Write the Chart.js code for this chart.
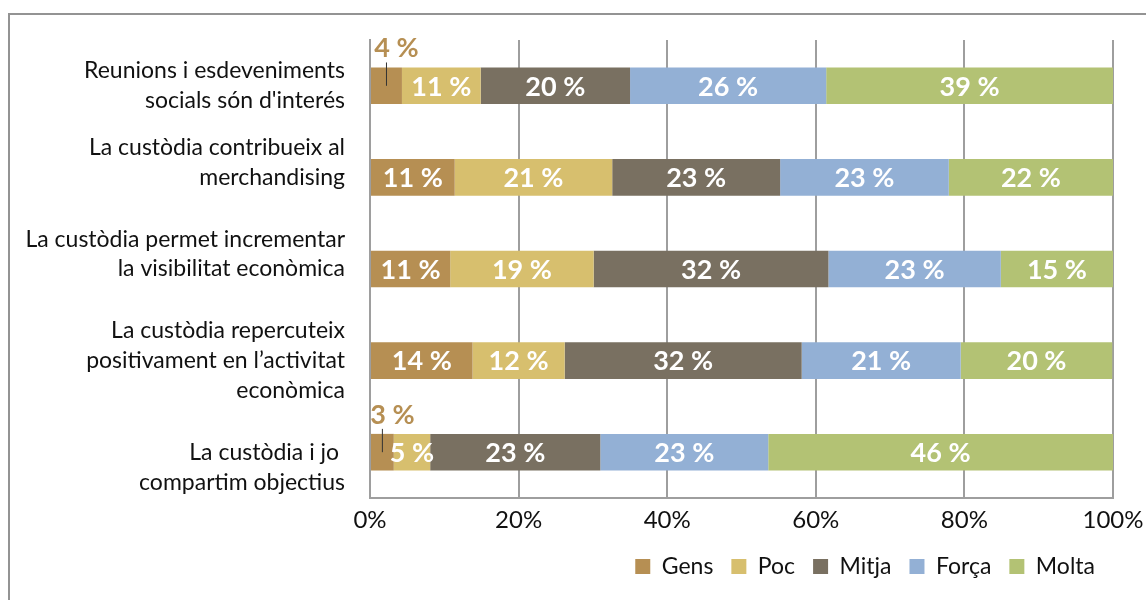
<!DOCTYPE html>
<html>
<head>
<meta charset="utf-8">
<script src="https://cdn.jsdelivr.net/npm/chart.js@4"></script>
<style>
  body { margin: 0; background: #fff; overflow: hidden; }
  #frame { position: absolute; left: 8px; top: 13px; width: 1300px; height: 800px; border: 2px solid #939393; }
  #wrap { position: absolute; left: 0; top: 0; width: 1146px; height: 600px; }
</style>
</head>
<body>
<div id="frame"></div>
<div id="wrap"><canvas id="chart"></canvas></div>
<script>
// categories (one array of lines per row, '' lines only push the text up or down)
const categories = [
    ['Reunions i esdeveniments', "socials són d'interés"],
    ['La custòdia contribueix al', 'merchandising', ''],
    ['La custòdia permet incrementar', 'la visibilitat econòmica', ''],
    ['La custòdia repercuteix', 'positivament en l’activitat', 'econòmica'],
    ['', 'La custòdia i jo ', 'compartim objectius']
];
const seriesNames = ['Gens', 'Poc', 'Mitja', 'Força', 'Molta'];
const seriesColors = ['#B68F53', '#D7BF6E', '#797061', '#93B0D5', '#B3C274'];

// percentages per row
const gens = [4.3, 11.4, 10.8, 13.8, 3.2];
const poc = [10.6, 21.2, 19.3, 12.4, 4.9];
const mitja = [20.1, 22.6, 31.6, 31.9, 22.9];
const forca = [26.4, 22.7, 23.2, 21.4, 22.6];
const molta = [38.6, 22.1, 15.1, 20.4, 46.4];

const xMax = 100;
const xStep = 20;

const labelFont = 'Lato';

//draw the "nn %" labels on the bars
const barLabels = {
    id: 'barLabels',
    afterDatasetsDraw(chart) {
        const ctx = chart.ctx;
        ctx.save();
        ctx.font = 'bold 27px ' + labelFont;
        ctx.textAlign = 'center';
        ctx.textBaseline = 'middle';
        chart.data.datasets.forEach((ds, i) => {
            const meta = chart.getDatasetMeta(i);
            meta.data.forEach((bar, j) => {
                const v = Math.round(ds.data[j]);
                const cx = (bar.x + bar.base) / 2;
                const top = bar.y - bar.height / 2;
                if (v < 5) {
                    //too small: put it above the bar with a leader line
                    ctx.strokeStyle = '#333';
                    ctx.lineWidth = 1;
                    ctx.beginPath();
                    ctx.moveTo(cx, top - 5);
                    ctx.lineTo(cx, bar.y);
                    ctx.stroke();
                    ctx.fillStyle = ds.backgroundColor;
                    ctx.fillText(v + ' %', cx + 10, top - 19);
                } else {
                    ctx.fillStyle = '#fff';
                    ctx.fillText(v + ' %', cx, bar.y + 1);
                }
            });
        });
        ctx.restore();
    }
};

const seriesData = [gens, poc, mitja, forca, molta];
const datasets = seriesNames.map((name, i) => ({
    label: name,
    data: seriesData[i],
    backgroundColor: seriesColors[i],
    borderWidth: 0,
    barPercentage: 0.4,
    categoryPercentage: 1
}));

new Chart(document.getElementById('chart'), {
    type: 'bar',
    data: { labels: categories, datasets: datasets },
    options: {
        indexAxis: 'y',
        responsive: true,
        maintainAspectRatio: false,
        animation: false,
        layout: { padding: { top: 40, right: 33, bottom: 12, left: 0 } },
        scales: {
            x: {
                stacked: true,
                min: 0,
                max: xMax,
                ticks: {
                    stepSize: xStep,
                    padding: 8,
                    maxRotation: 0,
                    color: '#111',
                    font: { family: labelFont, size: 24 },
                    callback: v => v + '%'
                },
                grid: { color: '#9e9e9e', lineWidth: 2, drawTicks: false },
                border: { display: true, color: '#9e9e9e', width: 2 },
                afterFit: scale => {
                    scale.height = 39;
                    scale.paddingLeft = 0;
                    scale.paddingRight = 0;
                }
            },
            y: {
                stacked: true,
                ticks: {
                    autoSkip: false,
                    padding: 25,
                    color: '#111',
                    font: { family: labelFont, size: 23, lineHeight: 1.3 }
                },
                grid: { display: false, drawTicks: false },
                border: { display: true, color: '#9e9e9e', width: 2 },
                afterFit: scale => {
                    scale.width = 370;
                    scale.paddingTop = 0;
                    scale.paddingBottom = 0;
                }
            }
        },
        plugins: {
            legend: {
                position: 'bottom',
                align: 'end',
                labels: {
                    boxWidth: 15,
                    boxHeight: 15,
                    padding: 18,
                    color: '#111',
                    font: { family: labelFont, size: 23 }
                }
            },
            tooltip: { enabled: false }
        }
    },
    plugins: [barLabels]
});
</script>
</body>
</html>
